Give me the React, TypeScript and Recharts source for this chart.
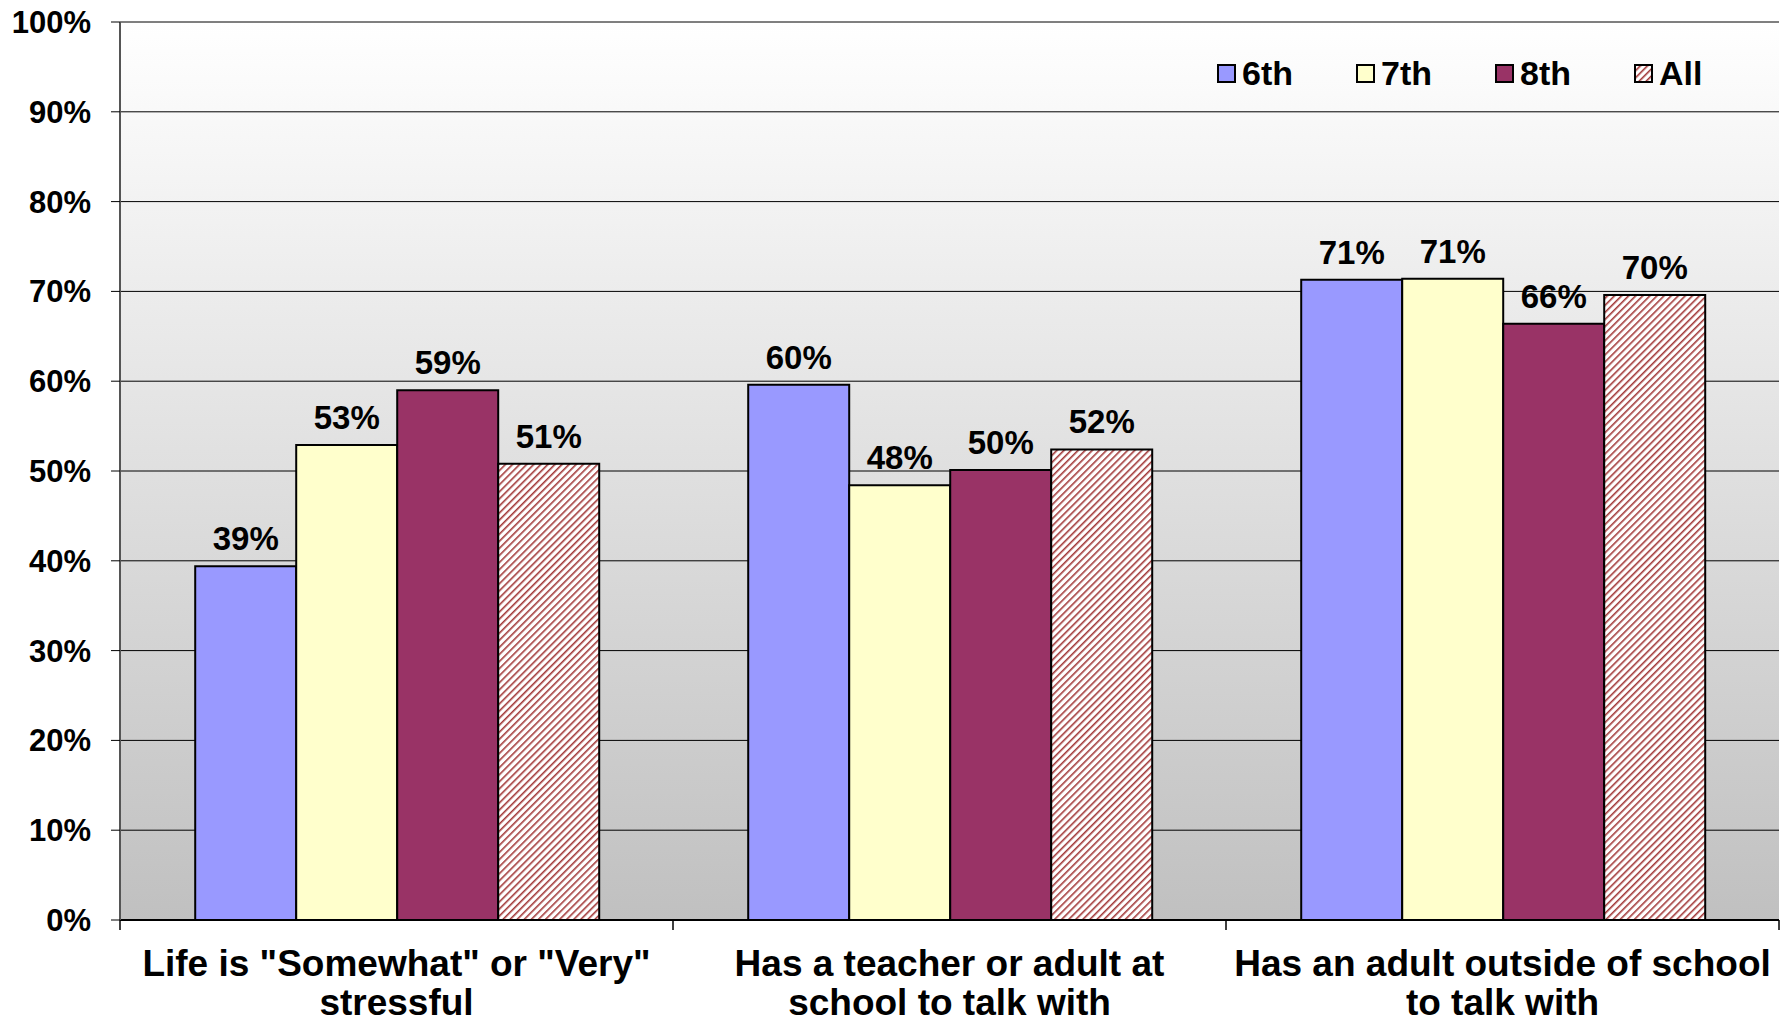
import { Bar, BarChart, CartesianGrid, LabelList, XAxis, YAxis } from "recharts"

// Survey results by grade
const categories = [
  'Life is "Somewhat" or "Very" stressful',
  "Has a teacher or adult at school to talk with",
  "Has an adult outside of school to talk with",
]
const categoryLines = [
  ['Life is "Somewhat" or "Very"', "stressful"],
  ["Has a teacher or adult at", "school to talk with"],
  ["Has an adult outside of school", "to talk with"],
]
const grades = ["6th", "7th", "8th", "All"]
const values6th = [39.4, 59.6, 71.3]
const values7th = [52.9, 48.4, 71.4]
const values8th = [59.0, 50.1, 66.4]
const valuesAll = [50.8, 52.4, 69.6]
const yTicks = [0, 10, 20, 30, 40, 50, 60, 70, 80, 90, 100]

const seriesValues = [values6th, values7th, values8th, valuesAll]
const fills = ["#9999ff", "#ffffcc", "#993366", "url(#hatchAll)"]

const data = categories.map((category, i) => {
  const row: Record<string, string | number> = { category }
  grades.forEach((g, gi) => {
    row[g] = seriesValues[gi][i]
  })
  return row
})

const FONT = '"Liberation Sans", Arial, Helvetica, sans-serif'

function CategoryTick(props: any) {
  const { x, y, payload, index } = props
  const half = payload?.offset ?? 276.5
  const lines = categoryLines[categories.indexOf(payload.value)] || [payload.value]
  return (
    <g>
      <line x1={x - half} y1={y} x2={x - half} y2={y + 10} stroke="#000" strokeWidth={1.5} />
      {index === categories.length - 1 && (
        <line x1={x + half} y1={y} x2={x + half} y2={y + 10} stroke="#000" strokeWidth={1.5} />
      )}
      <text x={x} y={y + 56} textAnchor="middle" fill="#000" fontSize={37} fontWeight="bold" fontFamily={FONT}>
        {lines.map((l, i) => (
          <tspan key={i} x={x} dy={i === 0 ? 0 : 39}>
            {l}
          </tspan>
        ))}
      </text>
    </g>
  )
}

export default function App() {
  return (
    <div style={{ position: "relative", width: 1790, height: 1024, background: "#fff" }}>
      <style>{"body{margin:0}"}</style>
      <BarChart
        width={1790}
        height={1024}
        data={data}
        margin={{ top: 22, right: 11, left: 0, bottom: 0 }}
        barCategoryGap="13.6%"
        barGap={0}
      >
        <defs>
          <linearGradient id="plotBg" x1="0" y1="0" x2="0" y2="1">
            <stop offset="0%" stopColor="#ffffff" />
            <stop offset="100%" stopColor="#c0c0c0" />
          </linearGradient>
          <pattern
            id="hatchAll"
            patternUnits="userSpaceOnUse"
            width={5}
            height={5}
            patternTransform="rotate(45)"
          >
            <rect width={5} height={5} fill="#ffffff" />
            <line x1={0} y1={0} x2={0} y2={5} stroke="#a33a3a" strokeWidth={3.2} />
          </pattern>
        </defs>
        <CartesianGrid vertical={false} stroke="#000" strokeWidth={1} fill="url(#plotBg)" fillOpacity={1} />
        <XAxis
          dataKey="category"
          height={104}
          interval={0}
          tickSize={0}
          tickMargin={0}
          tickLine={false}
          axisLine={{ stroke: "#000", strokeWidth: 2 }}
          tick={<CategoryTick />}
        />
        <XAxis
          xAxisId="top"
          orientation="top"
          dataKey="category"
          height={0}
          tick={false}
          tickLine={false}
          axisLine={{ stroke: "#8c8c8c", strokeWidth: 3 }}
        />
        <YAxis
          width={120}
          domain={[0, 100]}
          ticks={yTicks}
          interval={0}
          tickSize={9}
          tickMargin={20}
          tickFormatter={(v) => `${v}%`}
          tickLine={{ stroke: "#000" }}
          axisLine={{ stroke: "#555", strokeWidth: 2 }}
          tick={{ fill: "#000", fontSize: 31, fontWeight: "bold", fontFamily: FONT }}
        />
        <YAxis
          yAxisId="right"
          orientation="right"
          width={0}
          domain={[0, 100]}
          tick={false}
          tickLine={false}
          axisLine={{ stroke: "#8c8c8c", strokeWidth: 3 }}
        />
        {grades.map((g, gi) => (
          <Bar key={g} dataKey={g} fill={fills[gi]} stroke="#000" strokeWidth={2} isAnimationActive={false}>
            <LabelList
              dataKey={g}
              position="top"
              offset={16}
              formatter={(v: any) => `${Math.round(Number(v))}%`}
              fill="#000"
              fontSize={33}
              fontWeight="bold"
              fontFamily={FONT}
            />
          </Bar>
        ))}
      </BarChart>
      {/* legend */}
      <div style={{ position: "absolute", left: 1217, top: 54, display: "flex", fontFamily: FONT }}>
        {grades.map((g, gi) => (
          <div key={g} style={{ width: 139, display: "flex", alignItems: "center", height: 38 }}>
            <svg width={19} height={19} style={{ display: "block" }}>
              <rect x={1} y={1} width={17} height={17} fill={fills[gi]} stroke="#000" strokeWidth={2} />
            </svg>
            <span style={{ marginLeft: 6, fontSize: 34, fontWeight: "bold", color: "#000", lineHeight: "38px" }}>
              {g}
            </span>
          </div>
        ))}
      </div>
    </div>
  )
}
